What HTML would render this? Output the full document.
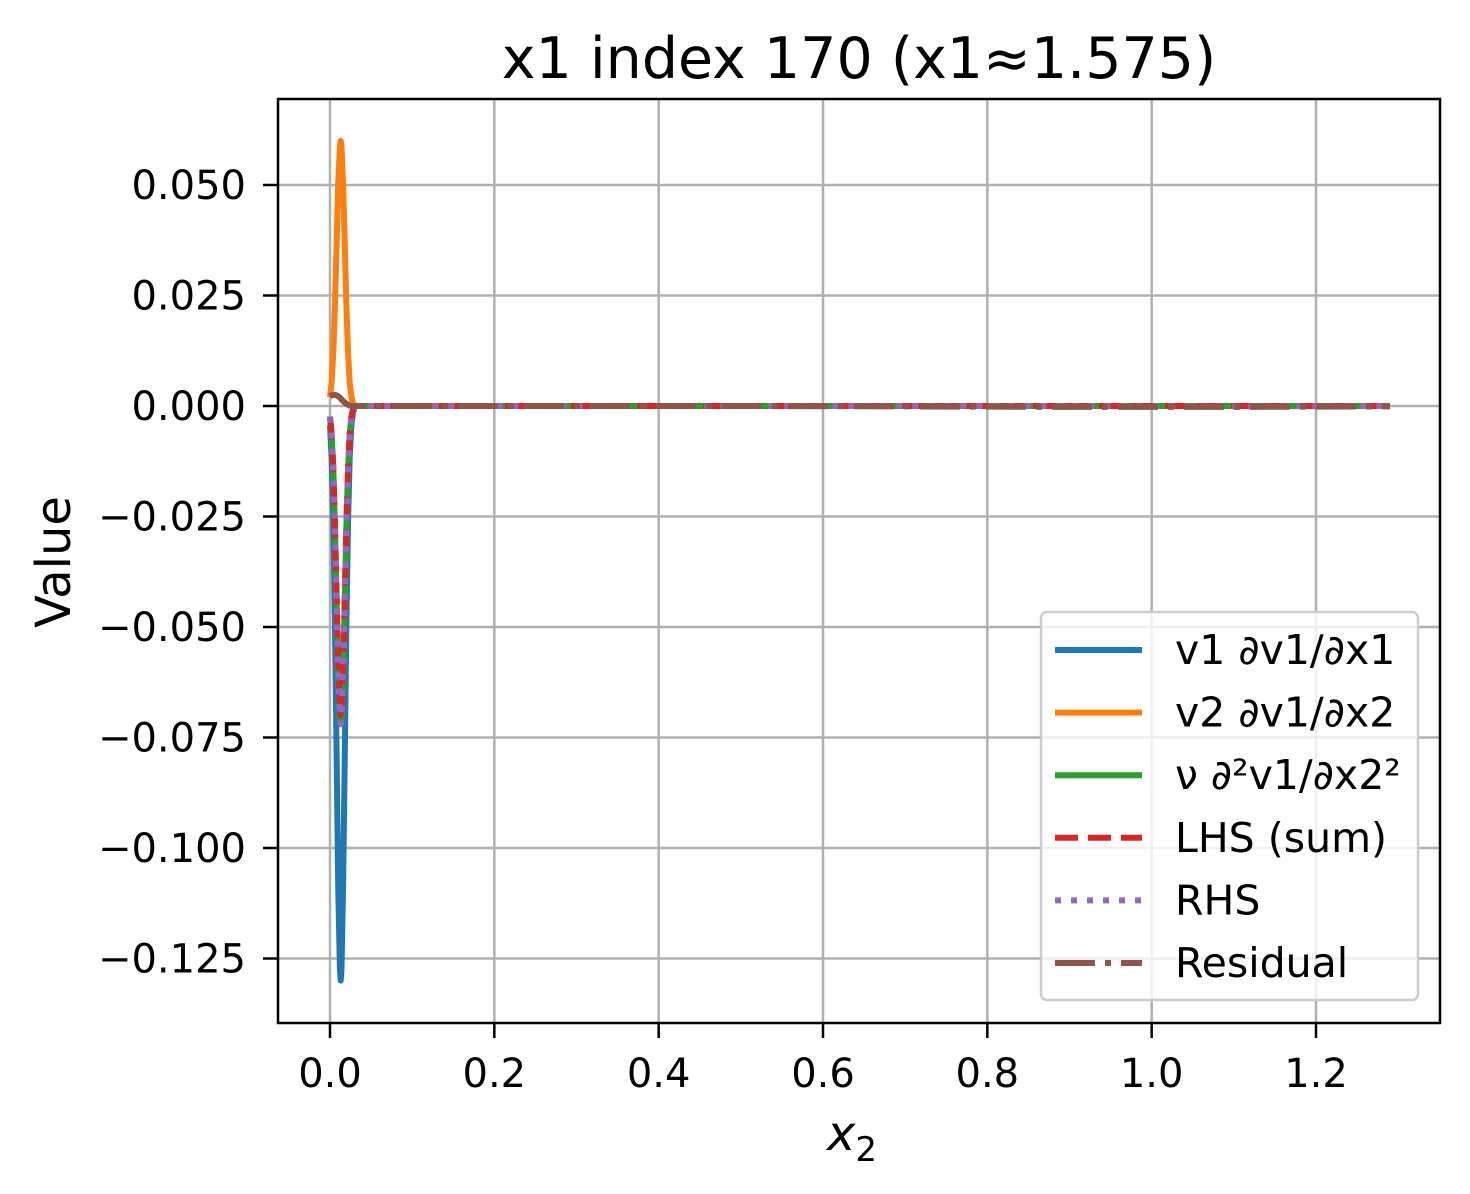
<!DOCTYPE html>
<html><head><meta charset="utf-8"><style>
body{margin:0;background:#fff;}
svg text{font-family:"DejaVu Sans","Liberation Sans",sans-serif;fill:#000;}
</style></head><body>
<svg id="chart" width="1470" height="1189" viewBox="0 0 1470 1189" xmlns="http://www.w3.org/2000/svg">
<rect width="1470" height="1189" fill="#fff"/>
<text x="859" y="78" style="font-size:57px" text-anchor="middle">x1 index 170 (x1≈1.575)</text>
<g id="grid"></g>
<g id="series"></g>
<rect x="278" y="99" width="1162" height="924" fill="none" stroke="#000" stroke-width="2.5"/>
<g id="ticks"></g>
<text x="0" y="0" style="font-size:48px" text-anchor="middle" transform="translate(70,562) rotate(-90)">Value</text>
<text x="852" y="1150" style="font-size:48px" text-anchor="middle" font-style="italic">x<tspan style="font-size:34px" dy="11" font-style="normal">2</tspan></text>
<g id="legend"></g>
</svg>
<script>
const xVals=[0,.002,.004,.006,.008,.010,.012,.013,.014,.016,.018,.020,.022,.024,.026,.028,.030,.032,0.1,0.3,0.5,0.7,0.9,1.1,1.29];
const v1dv1=[-0.0044,-0.0116,-0.0257,-0.0488,-0.0789,-0.1086,-0.1274,-0.130,-0.1274,-0.1086,-0.0789,-0.0488,-0.0257,-0.0116,-0.0044,-0.0014,-0.0004,0,0,0,0,0,0,0,0];
const v2dv1=[0.002,0.0053,0.0119,0.0225,0.0364,0.0501,0.0588,0.060,0.0588,0.0501,0.0364,0.0225,0.0119,0.0053,0.002,0.0007,0.0002,0,0,0,0,0,0,0,0];
const nuD2=[-0.0024,-0.0064,-0.0143,-0.027,-0.0437,-0.0601,-0.0706,-0.072,-0.0706,-0.0601,-0.0437,-0.027,-0.0143,-0.0064,-0.0024,-0.0008,-0.0002,0,0,0,0,0,0,0,0];
const lhs=[-0.0024,-0.0062,-0.0139,-0.0263,-0.0425,-0.0585,-0.0686,-0.070,-0.0686,-0.0585,-0.0425,-0.0263,-0.0139,-0.0062,-0.0024,-0.0008,-0.0002,0,0,0,0,0,0,0,0];
const rhs=[-0.0024,-0.0064,-0.0143,-0.027,-0.0437,-0.0601,-0.0706,-0.072,-0.0706,-0.0601,-0.0437,-0.027,-0.0143,-0.0064,-0.0024,-0.0008,-0.0002,0,0,0,0,0,0,-0.0001,0];
const residual=[0.0022,0.0024,0.0025,0.0025,0.0024,0.0022,0.0019,0.0017,0.0015,0.0011,0.0008,0.0005,0.0003,0.0001,0,0,0,0,0,0,0,-0.0001,-0.0002,-0.0002,-0.0001];
const xTicks=[0,0.2,0.4,0.6,0.8,1.0,1.2];
const xTickLabels=["0.0","0.2","0.4","0.6","0.8","1.0","1.2"];
const yTicks=[0.05,0.025,0,-0.025,-0.05,-0.075,-0.1,-0.125];
const yTickLabels=["0.050","0.025","0.000","−0.025","−0.050","−0.075","−0.100","−0.125"];
const seriesNames=["v1 ∂v1/∂x1","v2 ∂v1/∂x2","ν ∂²v1/∂x2²","LHS (sum)","RHS","Residual"];

const X=v=>330+v*(1316-330)/1.2;
const Y=v=>406-v*(406-185)/0.05;
const NS="http://www.w3.org/2000/svg";
function mk(tag,attrs,parent){const e=document.createElementNS(NS,tag);for(const k in attrs)e.setAttribute(k,attrs[k]);parent.appendChild(e);return e;}
const grid=document.getElementById('grid'),ticks=document.getElementById('ticks');
xTicks.forEach((t,i)=>{
  const g=mk('line',{x1:X(t),x2:X(t),y1:99,y2:1023,stroke:'#b0b0b0','stroke-width':2.5},grid);
  
  
  const tk=mk('line',{x1:X(t),x2:X(t),y1:1023,y2:1038,stroke:'#000','stroke-width':2.5},ticks);
  
  
  const tx=mk('text',{x:X(t),y:1087,style:'font-size:40px','text-anchor':'middle'},ticks);
  tx.textContent=xTickLabels[i];
  
  
});
yTicks.forEach((t,i)=>{
  const g=mk('line',{x1:278,x2:1440,y1:Y(t),y2:Y(t),stroke:'#b0b0b0','stroke-width':2.5},grid);
  
  
  const tk=mk('line',{x1:263,x2:278,y1:Y(t),y2:Y(t),stroke:'#000','stroke-width':2.5},ticks);
  
  
  const tx=mk('text',{x:246,y:Y(t)+14,style:'font-size:40px','text-anchor':'end'},ticks);
  tx.textContent=yTickLabels[i];
  
  
});
const styles=[
 {c:'#1f77b4',d:'',data:v1dv1,n:'series-v1-dv1dx1'},
 {c:'#ff7f0e',d:'',data:v2dv1,n:'series-v2-dv1dx2'},
 {c:'#2ca02c',d:'',data:nuD2,n:'series-nu-d2v1'},
 {c:'#d62728',d:'23,10',data:lhs,n:'series-lhs'},
 {c:'#9467bd',d:'6,10',data:rhs,n:'series-rhs'},
 {c:'#8c564b',d:'40,10,6,10',data:residual,n:'series-residual'}];
const sg=document.getElementById('series');
styles.forEach(s=>{
  const p=mk('polyline',{points:xVals.map((x,i)=>X(x).toFixed(1)+','+Y(s.data[i]).toFixed(1)).join(' '),fill:'none',stroke:s.c,'stroke-width':6,'stroke-dasharray':s.d,'stroke-linejoin':'round'},sg);
  
  
});
const lg=document.getElementById('legend');
const box=mk('rect',{x:1041,y:612,width:377,height:388,rx:6,fill:'#fff','fill-opacity':0.8,stroke:'#ccc','stroke-width':2.5},lg);


seriesNames.forEach((nm,i)=>{
  const y=650+i*62.6,s=styles[i];
  const l=mk('line',{x1:1055,x2:1142,y1:y,y2:y,stroke:s.c,'stroke-width':6,'stroke-dasharray':s.d},lg);
  
  
  const t=mk('text',{x:1175,y:y+14,style:'font-size:41px'},lg);
  t.textContent=nm;
  
  
});
</script>
</body></html>
